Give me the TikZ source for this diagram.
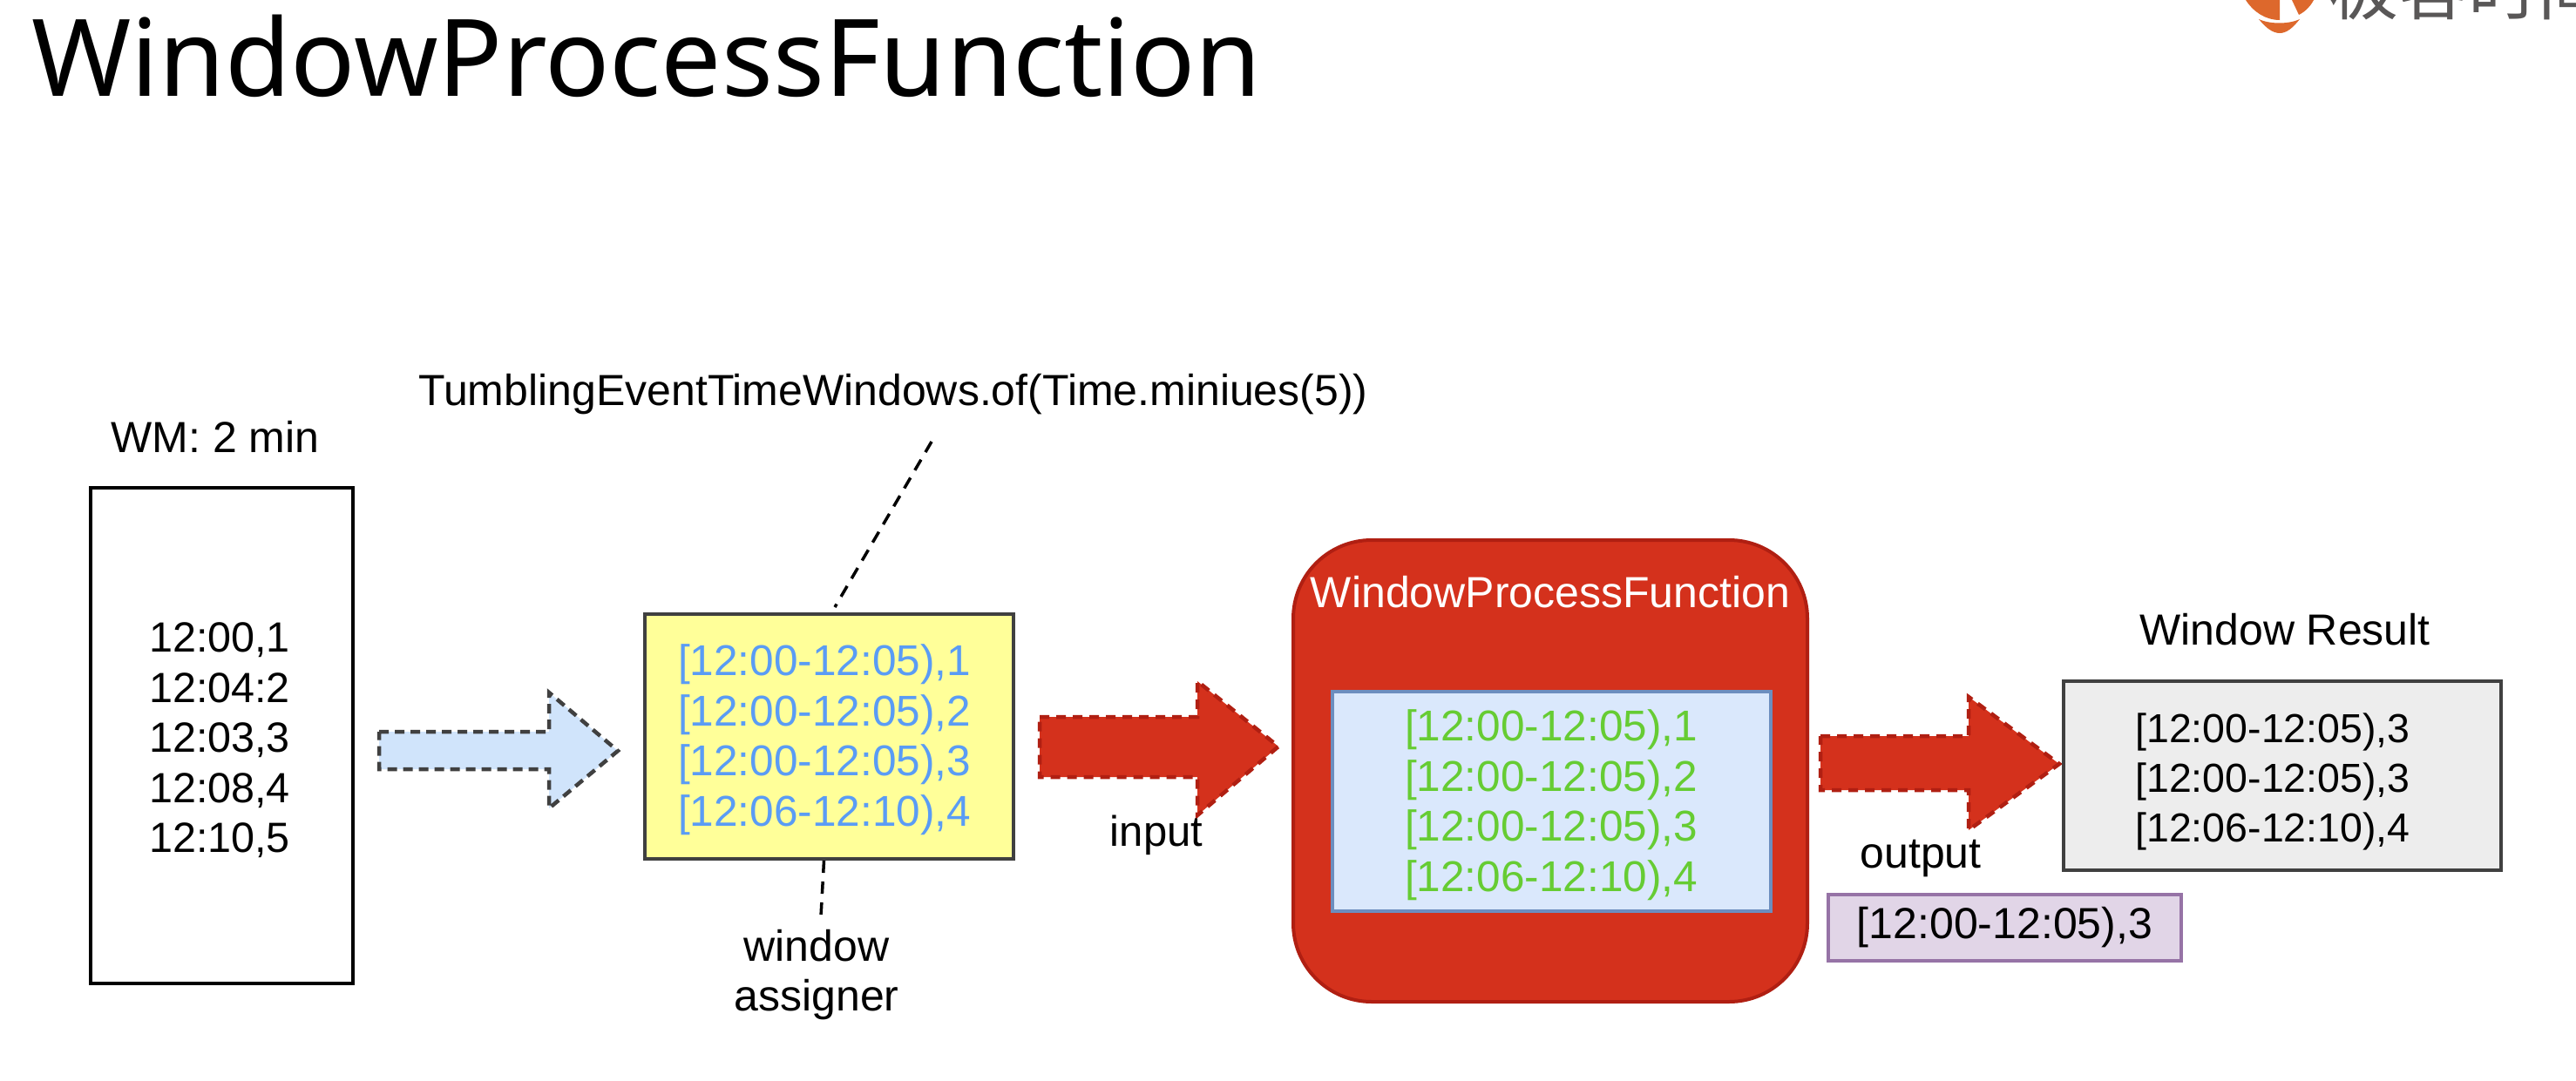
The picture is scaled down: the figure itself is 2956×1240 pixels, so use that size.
\documentclass[tikz,border=0pt]{standalone}
\usepackage{fontspec}
\setmainfont{Liberation Sans}
\newfontfamily\titlefont{Noto Sans}
\newfontfamily\cjkfont{Noto Sans CJK SC}
\usetikzlibrary{calc}
\definecolor{redfill}{HTML}{D4311C}
\definecolor{reddash}{HTML}{B01F12}
\definecolor{bluetxt}{HTML}{5A9CF5}
\definecolor{greentxt}{HTML}{66CC33}
\definecolor{lightarrow}{HTML}{D0E4FB}
\definecolor{inner}{HTML}{DAE8FC}
\definecolor{innerb}{HTML}{6C8EBF}
\definecolor{yel}{HTML}{FFFF99}
\definecolor{purp}{HTML}{E1D5E7}
\definecolor{purpb}{HTML}{9673A6}
\definecolor{logoor}{HTML}{DD682C}
\definecolor{logogr}{HTML}{595757}
\tikzset{
  x=1pt,y=-1pt,
  lbl/.style={inner sep=0pt,align=center,font=\fontsize{50}{57.5}\selectfont},
  rowtext/.style={inner sep=0pt,align=center,font=\fontsize{49.5}{57.5}\selectfont},
  arrowred/.style={fill=redfill,draw=reddash,line width=4.5pt,dash pattern=on 11pt off 8pt,line join=miter},
  arrowblue/.style={fill=lightarrow,draw=black!75,line width=4.5pt,dash pattern=on 11pt off 7pt},
  leader/.style={draw=black,line width=3.5pt,dash pattern=on 14pt off 10pt},
}
\begin{document}
\begin{tikzpicture}
\useasboundingbox (0,0) rectangle (2956,1240);
\fill[white] (0,0) rectangle (2956,1240);
% logo
\fill[logoor] (2577,0) .. controls (2586,14) and (2600,23) .. (2616,23) -- (2616,0) -- cycle;
\fill[logoor] (2630,0) -- (2638,17) .. controls (2646,13) and (2652,6) .. (2655,0) -- cycle;
\fill[logoor] (2592,22) .. controls (2605,28) and (2626,28) .. (2639,22) .. controls (2631,32) and (2624,38) .. (2616,38) .. controls (2608,38) and (2600,32) .. (2592,22) -- cycle;
\node[anchor=base west,inner sep=0pt,text=logogr,font=\cjkfont\fontsize{80}{80}\selectfont] (logo) at (2672,16) {极客时间};
% title
\node[anchor=base west,inner sep=0pt,font=\titlefont\fontsize{123}{123}\selectfont] (title) at (36,110) {WindowProcessFunction};
% source
\node[lbl] (wm) at (247,501) {WM: 2 min};
\node[draw=black,line width=4pt,minimum width=301pt,minimum height=569pt,inner sep=0pt] (src) at (254.5,844.5) {};
\node[rowtext,font=\fontsize{48.5}{57.5}\selectfont] (srctxt) at (252,850) {12:00,1\\12:04:2\\12:03,3\\12:08,4\\12:10,5};
% blue arrow
\draw[arrowblue] (435,840) -- (630,840) -- (630,795) -- (709,862) -- (630,928) -- (630,883) -- (435,883) -- cycle;
% yellow
\node[fill=yel,draw=black!75,line width=4pt,minimum width=423pt,minimum height=281pt,inner sep=0pt] (yellow) at (951.5,845.5) {};
\node[rowtext,text=bluetxt] (yellowtxt) at (946,849) {{[}12:00-12:05),1\\{[}12:00-12:05),2\\{[}12:00-12:05),3\\{[}12:06-12:10),4};
\node[lbl] (tumb) at (1025,453) {TumblingEventTimeWindows.of(Time.miniues(5))};
\coordinate (tumbend) at (1069,507);
\coordinate (yelltop) at (958,697);
\draw[leader] (tumbend) -- (yelltop);
\node[lbl] (assigner) at (937,1119) {window\\assigner};
\coordinate (asgtop) at (942,1052);
\draw[leader] ([xshift=-6pt]yellow.south) -- (asgtop);
% red arrow 1
\draw[arrowred] (1193,823) -- (1374,823) -- (1374,782) -- (1467,857) -- (1374,936) -- (1374,892) -- (1193,892) -- cycle;
\node[lbl,font=\fontsize{49}{57}\selectfont] (input) at (1327,959) {input};
% process
\node[fill=redfill,draw=reddash,line width=4pt,rounded corners=90pt,minimum width=590pt,minimum height=530pt,inner sep=0pt] (proc) at (1779,885) {};
\node[lbl,text=white] (proclbl) at (1779,680) {WindowProcessFunction};
\node[fill=inner,draw=innerb,line width=4pt,minimum width=503pt,minimum height=252pt,inner sep=0pt] (innerbox) at (1780.5,920) {};
\node[rowtext,text=greentxt] (innertxt) at (1780,924) {{[}12:00-12:05),1\\{[}12:00-12:05),2\\{[}12:00-12:05),3\\{[}12:06-12:10),4};
% red arrow 2
\draw[arrowred] (2089,845) -- (2259,845) -- (2259,800) -- (2363,877) -- (2259,953) -- (2259,907) -- (2089,907) -- cycle;
\node[lbl] (output) at (2204,986) {output};
\node[fill=purp,draw=purpb,line width=4pt,minimum width=405pt,minimum height=76pt,inner sep=0pt,font=\fontsize{50}{57}\selectfont] (purple) at (2300.5,1065) {[12:00-12:05),3};
% result
\node[lbl] (reslbl) at (2622,723) {Window Result};
\node[fill=black!7,draw=black!75,line width=4pt,minimum width=502pt,minimum height=217pt,inner sep=0pt] (res) at (2619,890.5) {};
\node[inner sep=0pt,align=center,font=\fontsize{46.5}{57}\selectfont] (restxt) at (2608,897) {{[}12:00-12:05),3\\{[}12:00-12:05),3\\{[}12:06-12:10),4};
\end{tikzpicture}
\end{document}
